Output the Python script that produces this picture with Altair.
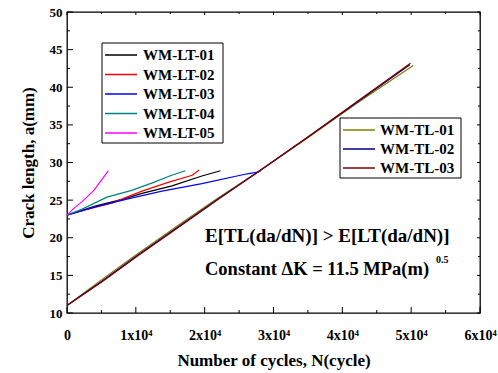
import altair as alt
import pandas as pd

FONT = "Liberation Serif"

LT_NAMES = ["WM-LT-01", "WM-LT-02", "WM-LT-03", "WM-LT-04", "WM-LT-05"]
TL_NAMES = ["WM-TL-01", "WM-TL-02", "WM-TL-03"]
LT_COLORS = ["#000000", "#ff0000", "#0000ff", "#008080", "#ff00ff"]
TL_COLORS = ["#808000", "#000080", "#800000"]

# crack length data (N cycles, a mm)
LT01_N = [0, 4100, 8000, 10900, 15250, 19600, 22300]
LT01_A = [23.0, 24.2, 25.1, 25.9, 26.9, 28.2, 28.9]
LT02_N = [0, 2200, 6500, 10900, 14800, 18200, 19200]
LT02_A = [23.0, 23.6, 24.6, 26.2, 27.4, 28.3, 29.0]
LT03_N = [0, 4100, 9000, 13800, 19600, 26200, 28100]
LT03_A = [23.0, 24.1, 25.2, 26.2, 27.2, 28.5, 28.8]
LT04_N = [0, 2200, 5800, 9400, 12400, 15200, 17200]
LT04_A = [23.0, 23.8, 25.4, 26.3, 27.3, 28.3, 28.9]
LT05_N = [0, 1000, 2200, 3900, 6000]
LT05_A = [23.0, 23.9, 24.8, 26.3, 28.9]
TL01_N = [0, 5000, 10000, 17000, 22000, 28000, 35000, 42000, 50300]
TL01_A = [11.0, 14.4, 17.7, 22.2, 25.3, 28.9, 33.3, 37.8, 42.9]
TL02_N = [0, 5000, 10000, 17000, 22000, 28000, 35000, 42000, 49800]
TL02_A = [11.0, 14.2, 17.5, 22.0, 25.2, 28.9, 33.4, 37.9, 43.0]
TL03_N = [0, 5000, 10000, 17000, 22000, 28000, 35000, 42000, 49900]
TL03_A = [11.0, 14.1, 17.4, 21.9, 25.1, 28.9, 33.4, 38.0, 43.2]

Y_MAJOR = [10, 15, 20, 25, 30, 35, 40, 45, 50]
Y_MINOR = [12.5, 17.5, 22.5, 27.5, 32.5, 37.5, 42.5, 47.5]
X_MAJOR = [0, 10000, 20000, 30000, 40000, 50000, 60000]
X_MINOR = [5000, 15000, 25000, 35000, 45000, 55000]

series = [
    ("WM-LT-01", LT01_N, LT01_A), ("WM-LT-02", LT02_N, LT02_A),
    ("WM-LT-03", LT03_N, LT03_A), ("WM-LT-04", LT04_N, LT04_A),
    ("WM-LT-05", LT05_N, LT05_A), ("WM-TL-01", TL01_N, TL01_A),
    ("WM-TL-02", TL02_N, TL02_A), ("WM-TL-03", TL03_N, TL03_A),
]
rows = []
for name, ns, as_ in series:
    for i, (n, a) in enumerate(zip(ns, as_)):
        rows.append({"series": name, "N": n, "a": a, "i": i})
df = pd.DataFrame(rows)

ALL_NAMES = LT_NAMES + TL_NAMES
color_scale = alt.Scale(domain=ALL_NAMES, range=LT_COLORS + TL_COLORS)
XS = alt.Scale(domain=[0, 60000], nice=False)
YS = alt.Scale(domain=[10, 50], nice=False)
W, H = 413, 301

lines = alt.Chart(df).mark_line(strokeWidth=1.2).encode(
    x=alt.X("N:Q", scale=XS,
            axis=alt.Axis(values=X_MAJOR, ticks=False, domain=False, grid=False,
                          labelExpr="datum.value == 0 ? '0' : format(datum.value/10000, 'd') + 'x10⁴'",
                          labelFont=FONT, labelFontWeight="bold", labelFontSize=14,
                          labelColor="black", labelPadding=15, labelFlush=False,
                          title="Number of cycles, N(cycle)", titleFont=FONT,
                          titleFontWeight="bold", titleFontSize=17, titleColor="black",
                          titleY=47, titleBaseline="middle")),
    y=alt.Y("a:Q", scale=YS,
            axis=alt.Axis(values=Y_MAJOR, ticks=False, domain=False, grid=False,
                          labelFont=FONT, labelFontWeight="bold", labelFontSize=13,
                          labelColor="black", labelPadding=5, labelFlush=False,
                          title="Crack length, a(mm)", titleFont=FONT,
                          titleFontWeight="bold", titleFontSize=17, titleColor="black",
                          titleX=-39, titleBaseline="middle")),
    color=alt.Color("series:N", scale=color_scale, legend=None),
    detail="series:N",
    order="i:Q",
)

def yticks(vals, x0, x1):
    return alt.Chart(pd.DataFrame({"v": vals})).mark_rule(color="black", strokeWidth=1).encode(
        y=alt.Y("v:Q", scale=YS, axis=None), x=alt.value(x0), x2=alt.value(x1))

def xticks(vals, y0, y1):
    return alt.Chart(pd.DataFrame({"v": vals})).mark_rule(color="black", strokeWidth=1).encode(
        x=alt.X("v:Q", scale=XS, axis=None), y=alt.value(y0), y2=alt.value(y1))

ticks = [
    yticks(Y_MAJOR, 0, 6), yticks(Y_MINOR, 0, 3),
    yticks(Y_MAJOR, W, W - 3), yticks(Y_MINOR, W, W - 2),
    xticks(X_MAJOR, H, H - 6), xticks(X_MINOR, H, H - 3),
    xticks(X_MAJOR, 0, 3), xticks(X_MINOR, 0, 2),
]

def legend(names, y_range, box, x_line, x_text):
    ld = pd.DataFrame({"series": names})
    ys = alt.Scale(type="point", domain=names, range=y_range, padding=0)
    b = alt.Chart(pd.DataFrame({"k": [0]})).mark_rect(
        fill="white", stroke="black", strokeWidth=1).encode(
        x=alt.value(box[0]), x2=alt.value(box[1]), y=alt.value(box[2]), y2=alt.value(box[3]))
    ln = alt.Chart(ld).mark_rule(strokeWidth=1.5).encode(
        y=alt.Y("series:N", scale=ys, axis=None),
        x=alt.value(x_line[0]), x2=alt.value(x_line[1]),
        color=alt.Color("series:N", scale=color_scale, legend=None))
    tx = alt.Chart(ld).mark_text(align="left", baseline="middle", font=FONT,
                                 fontWeight="bold", fontSize=15, color="black").encode(
        y=alt.Y("series:N", scale=ys, axis=None), x=alt.value(x_text),
        text="series:N")
    return [b, ln, tx]

leg1 = legend(LT_NAMES, [43, 121], (35, 156, 31, 131), (38, 70), 76)
leg2 = legend(TL_NAMES, [118, 156], (273, 394, 106, 166), (276, 308), 313)

ANNO1 = ["E[TL(da/dN)] > E[LT(da/dN)]"]
ANNO2 = ["Constant ΔK  = 11.5 MPa(m)"]
ANNO3 = ["0.5"]
a1 = alt.Chart(pd.DataFrame({"t": ANNO1})).mark_text(
    align="left", baseline="middle", font=FONT, fontWeight="bold", fontSize=19, color="black").encode(
    x=alt.value(138), y=alt.value(224), text="t:N")
a2 = alt.Chart(pd.DataFrame({"t": ANNO2})).mark_text(
    align="left", baseline="middle", font=FONT, fontWeight="bold", fontSize=18.5, color="black").encode(
    x=alt.value(138), y=alt.value(257), text="t:N")
a3 = alt.Chart(pd.DataFrame({"t": ANNO3})).mark_text(
    align="left", baseline="middle", font=FONT, fontWeight="bold", fontSize=10, color="black").encode(
    x=alt.value(369), y=alt.value(248), text="t:N")

chart = alt.layer(lines, *ticks, *leg1, *leg2, a1, a2, a3).resolve_scale(
    y="independent"
).resolve_axis(x="independent").properties(
    width=W, height=H,
    autosize=alt.AutoSizeParams(type="none"),
    padding={"left": 67, "top": 12, "right": 18, "bottom": 60},
).configure_view(stroke="black", strokeWidth=1.3)

chart.save("out.html", embed_options={"renderer": "svg", "actions": False})
